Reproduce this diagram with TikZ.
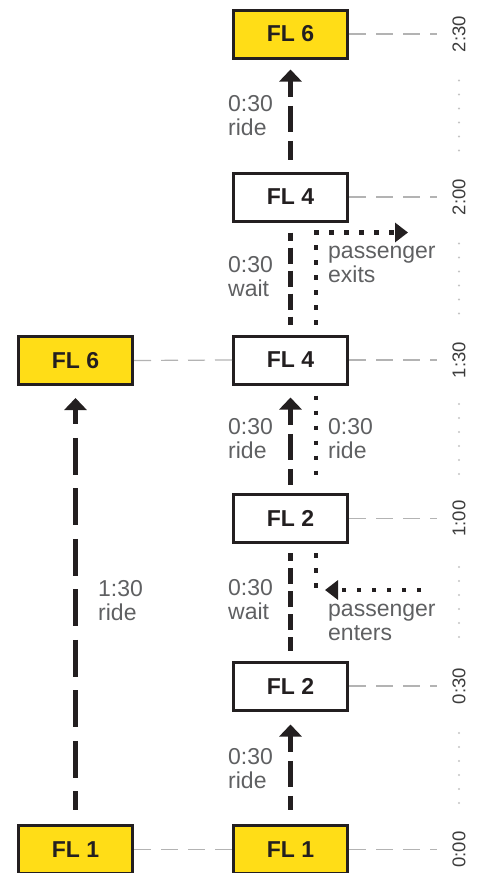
\documentclass[tikz,border=0pt]{standalone}
\usepackage{fontspec}
\setmainfont{Liberation Sans}
\usetikzlibrary{arrows.meta}
\definecolor{ink}{HTML}{231F20}
\definecolor{fly}{HTML}{FFDD17}
\definecolor{lbl}{HTML}{5F6062}
\definecolor{gridc}{HTML}{B3B3B3}
\definecolor{dotc}{HTML}{C4C4C4}
\definecolor{tickc}{HTML}{3C3C3C}
\begin{document}
\begin{tikzpicture}[x=1pt,y=-1pt,
  floor/.style={draw=ink,line width=3pt,minimum width=114pt,minimum height=48pt,inner sep=0pt,
    font=\fontsize{23}{24}\selectfont\bfseries,text=ink},
  hi/.style={floor,fill=fly},
  lo/.style={floor,fill=white},
  note/.style={align=left,anchor=west,inner sep=0pt,text=lbl,font=\fontsize{23}{24}\selectfont},
  tlabel/.style={rotate=90,inner sep=0pt,text=tickc,font=\fontsize{18.5}{19}\selectfont},
  gridline/.style={draw=gridc,line width=1.2pt,dash pattern=on 17pt off 10pt},
  ride/.style={draw=ink,line width=5.5pt,{Triangle[width=22pt,length=12pt]}-},
  shortride/.style={ride,dash pattern=on 26pt off 9pt,dash phase=10pt},
  longride/.style={ride,dash pattern=on 37pt off 13.5pt,dash phase=22pt},
  waitline/.style={draw=ink,line width=5.5pt,dash pattern=on 16pt off 7pt,dash phase=8pt},
  dotline/.style={draw=ink,line width=4.5pt,dash pattern=on 4.5pt off 10.5pt},
  dotarrow/.style={dotline,-{Triangle[width=19pt,length=13pt]}}
]
\useasboundingbox (0,0) rectangle (479,873);

% floor boxes
\node[hi] (t6) at (290.5,34) {FL 6};
\node[lo] (u4) at (290.5,197) {FL 4};
\node[lo] (m4) at (290.5,360) {FL 4};
\node[hi] (l6) at (75.5,360.5) {FL 6};
\node[lo] (u2) at (290.5,518.5) {FL 2};
\node[lo] (d2) at (290.5,686) {FL 2};
\node[hi] (l1) at (75.5,849.5) {FL 1};
\node[hi] (r1) at (290.5,849.5) {FL 1};

% time axis
\coordinate (axis) at (437,0);
\foreach \n/\y/\t in {a5/34/2:30, a4/197/2:00, a3/360/1:30, a2/518.5/1:00, a1/686/0:30, a0/849.5/0:00}
  \node[tlabel] (\n) at (459,\y) {\t};
\foreach \m in {115.5,278.5,439,602,768}
  \foreach \d in {-35,-21,-7,7,21,35}
    \fill[dotc] (459,\m+\d) circle (1.1pt);

% grey guide lines
\foreach \b in {t6,u4,m4,u2,d2,r1}
  \draw[gridline] (\b.east) -- (\b.east -| axis);
\draw[gridline] (l6.east) -- (m4.west);
\draw[gridline] (l1.east) -- (r1.west);

% elevator path
\draw[shortride,shorten <=10pt,shorten >=12pt] (t6.south) -- (u4.north);
\draw[waitline,shorten <=10pt,shorten >=10pt] (u4.south) -- (m4.north);
\draw[shortride,shorten <=12pt,shorten >=8pt] (m4.south) -- (u2.north);
\draw[waitline,shorten <=9pt,shorten >=10pt] (u2.south) -- (d2.north);
\draw[shortride,shorten <=13pt,shorten >=14pt] (d2.south) -- (r1.north);
\draw[longride,shorten <=12pt,shorten >=14pt] (l6.south) -- (l1.north);

% passenger path
\coordinate (exitpt) at (408,232.5);
\coordinate (enterjoin) at (316,590);
\coordinate (enterpt) at (421,590);
\draw[dotarrow,shorten <=10pt] ([xshift=25.5pt]m4.north) |- (exitpt);
\draw[dotline,shorten <=10pt,shorten >=10pt] ([xshift=25.5pt]m4.south) -- ([xshift=25.5pt]u2.north);
\draw[dotline,shorten <=9pt] ([xshift=25.5pt]u2.south) -- (enterjoin);
\draw[dotarrow,shorten >=9pt] (enterpt) -- (enterjoin);

% labels
\node[note] (n1) at (228,116) {0:30\\ride};
\node[note] (n2) at (228,277) {0:30\\wait};
\node[note] (n3) at (328,264) {passenger\\exits};
\node[note] (n4) at (228,439) {0:30\\ride};
\node[note] (n5) at (328,439) {0:30\\ride};
\node[note] (n6) at (98,601) {1:30\\ride};
\node[note] (n7) at (228,600) {0:30\\wait};
\node[note] (n8) at (328,622) {passenger\\enters};
\node[note] (n9) at (228,769) {0:30\\ride};
\end{tikzpicture}
\end{document}
